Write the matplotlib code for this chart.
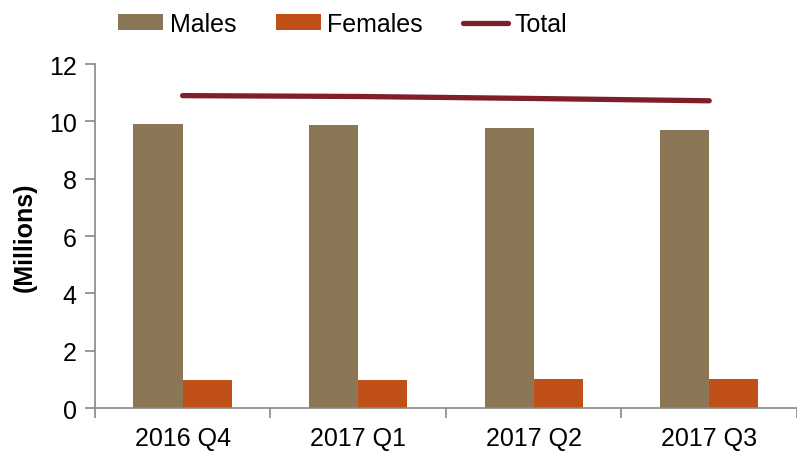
import matplotlib
matplotlib.use("Agg")
import matplotlib.pyplot as plt
import numpy as np
from matplotlib.ticker import FixedLocator

categories = ["2016 Q4", "2017 Q1", "2017 Q2", "2017 Q3"]
males = [9.91, 9.86, 9.78, 9.70]
females = [0.98, 0.98, 1.00, 1.02]
total = [10.90, 10.87, 10.80, 10.72]

plt.rcParams['font.family'] = ['Liberation Sans', 'DejaVu Sans']

fig = plt.figure(figsize=(7.97, 4.52), dpi=100)
ax = fig.add_axes([0.119, 0.095, 0.881, 0.761])

x = np.arange(len(categories))
w = 0.28
hm = ax.bar(x - w/2, males, w, color="#8B7755", label="Males")
hf = ax.bar(x + w/2, females, w, color="#C04F18", label="Females")
ht, = ax.plot(x, total, color="#7F1F2A", lw=3.8, solid_capstyle="round", label="Total")

ax.set_xlim(-0.5, len(categories) - 0.5)
ax.set_ylim(0, 12)
ax.set_yticks(np.arange(0, 13, 2))
ax.set_xticks(x)
ax.set_xticklabels(categories)
ax.xaxis.set_minor_locator(FixedLocator(np.arange(-0.5, len(categories), 1.0)))
ax.tick_params(axis='x', which='major', length=0, labelsize=18, pad=13)
ax.tick_params(axis='x', which='minor', length=7, color="#888888", width=1.2)
ax.tick_params(axis='y', length=7, color="#888888", width=1.2, labelsize=18, pad=6)

for s in ["top", "right"]:
    ax.spines[s].set_visible(False)
for s in ["left", "bottom"]:
    ax.spines[s].set_color("#888888")
    ax.spines[s].set_linewidth(1.2)

ax.set_ylabel("(Millions)", fontsize=18, fontweight="bold", labelpad=9)

leg = fig.legend([hm, hf, ht], ["Males", "Females", "Total"],
                 loc="center", bbox_to_anchor=(0.43, 0.945), ncol=3, frameon=False,
                 fontsize=18, handlelength=1.8, handleheight=0.56, handletextpad=0.25,
                 columnspacing=1.6)

fig.savefig("out.png", dpi=100)
